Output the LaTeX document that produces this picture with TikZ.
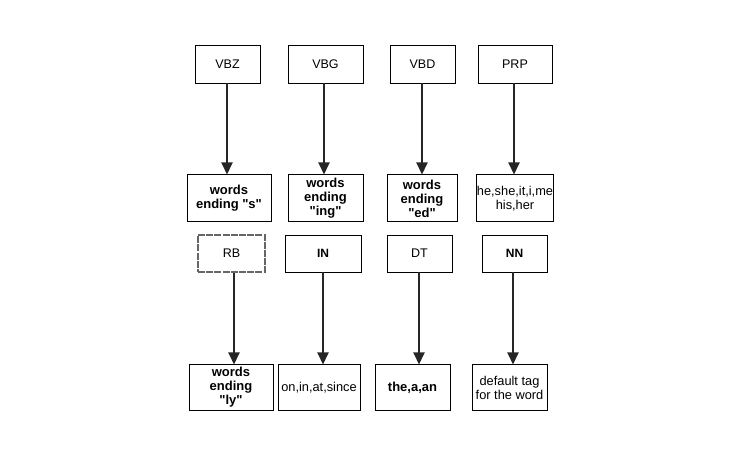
\documentclass[tikz,border=0pt]{standalone}
\usepackage{fontspec}
\setmainfont{Liberation Sans}
\usetikzlibrary{arrows.meta}
\tikzset
{
    tagbox/.style   = {rectangle, draw=black, line width=0.9pt, align=center, inner sep=0pt, minimum height=38pt, font=\fontsize{12.5}{14}\selectfont},
    roughbox/.style = {tagbox, draw=black!60, line width=1.1pt, dash pattern=on 7pt off 1.2pt},
    wordbox/.style  = {rectangle, draw=black, line width=1pt, align=center, inner sep=0pt, minimum height=47pt, font=\fontsize{12.8}{14}\selectfont},
    boldwords/.style = {font=\fontsize{13}{14}\selectfont\bfseries},
    tagarrow/.style = {draw=black!85, line width=2pt, -{Triangle[width=11pt,length=12pt]}}
}
\newcommand{\qt}[1]{\textquotedbl#1\textquotedbl}

\begin{document}
\begin{tikzpicture}[x=1pt, y=-1pt]
	\useasboundingbox (0,0) rectangle (734,454);
	% first row: verb and pronoun tags
	\node[tagbox, minimum width=65pt] (vbz) at (227.5,64) {VBZ};
	\node[tagbox, minimum width=75pt] (vbg) at (325.5,64) {VBG};
	\node[tagbox, minimum width=65pt] (vbd) at (422.5,64) {VBD};
	\node[tagbox, minimum width=74pt] (prp) at (515,64) {PRP};
	% what they match
	\node[wordbox, boldwords, minimum width=84pt] (ends) at (229,198.5) {words\\ending \qt{s}};
	\node[wordbox, boldwords, minimum width=75pt] (ending) at (325.5,198.5) {words\\ending\\\qt{ing}};
	\node[wordbox, boldwords, minimum width=70pt] (ended) at (422,198.5) {words\\ending\\\qt{ed}};
	\node[wordbox, minimum width=76pt] (pron) at (515,198.5) {he,she,it,i,me\\his,her};
	% second row of tags
	\node[roughbox, minimum width=67pt, minimum height=37pt] (rb) at (231.5,253.5) {RB};
	\node[tagbox, font=\fontsize{12}{14}\selectfont\bfseries, minimum width=76pt, minimum height=37pt] (in) at (323,253.5) {IN};
	\node[tagbox, minimum width=65pt, minimum height=37pt] (dt) at (419.5,253.5) {DT};
	\node[tagbox, font=\fontsize{12}{14}\selectfont\bfseries, minimum width=65pt, minimum height=37pt] (nn) at (514.5,253.5) {NN};
	% what they match
	\node[wordbox, boldwords, minimum width=84pt, minimum height=45pt] (endly) at (231,387.5) {words\\ending\\\qt{ly}};
	\node[wordbox, minimum width=82pt, minimum height=45pt] (prep) at (319,387.5) {on,in,at,since};
	\node[wordbox, boldwords, minimum width=75pt, minimum height=45pt] (det) at (412.5,387.5) {the,a,an};
	\node[wordbox, minimum width=75pt, minimum height=45pt] (dflt) at (509.5,387.5) {default tag\\for the word};

	% arrows sit a little off centre, as in the drawing
	\draw[tagarrow] ([xshift=-0.5pt]vbz.south) -- ([xshift=-0.5pt]vbz.south |- ends.north);
	\draw[tagarrow] ([xshift=-1.5pt]vbg.south) -- ([xshift=-1.5pt]vbg.south |- ending.north);
	\draw[tagarrow] ([xshift=-0.5pt]vbd.south) -- ([xshift=-0.5pt]vbd.south |- ended.north);
	\draw[tagarrow] ([xshift=-1pt]prp.south) -- ([xshift=-1pt]prp.south |- pron.north);
	\draw[tagarrow] ([xshift=2.5pt]rb.south) -- ([xshift=2.5pt]rb.south |- endly.north);
	\draw[tagarrow] (in.south) -- (in.south |- prep.north);
	\draw[tagarrow] ([xshift=-0.5pt]dt.south) -- ([xshift=-0.5pt]dt.south |- det.north);
	\draw[tagarrow] ([xshift=-1.5pt]nn.south) -- ([xshift=-1.5pt]nn.south |- dflt.north);
\end{tikzpicture}
\end{document}
